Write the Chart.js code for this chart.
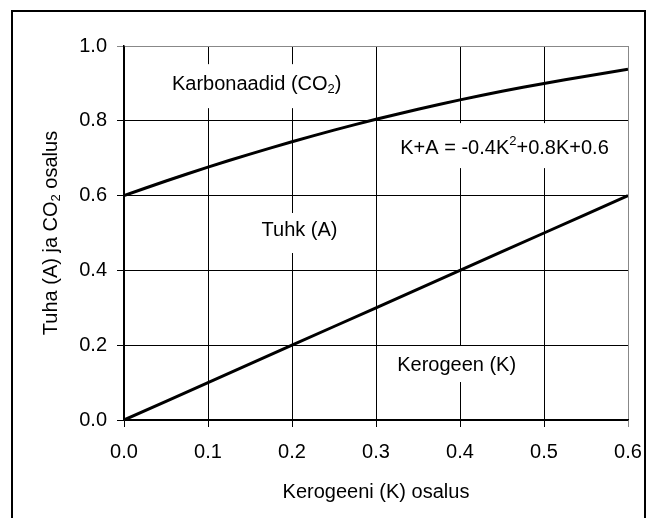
<!DOCTYPE html>
<html>
<head>
<meta charset="utf-8">
<script src="https://cdn.jsdelivr.net/npm/chart.js@4/dist/chart.umd.min.js"></script>
<style>
  html, body { margin: 0; padding: 0; background: #fff; }
  #wrap { width: 648px; height: 518px; }
</style>
</head>
<body>
<div id="wrap"><canvas id="chart" width="648" height="518"></canvas></div>
<script>
// kerogen fraction (x) and the two curves
const kerogen = [0, 0.05, 0.1, 0.15, 0.2, 0.25, 0.3, 0.35, 0.4, 0.45, 0.5, 0.55, 0.6];
const kerogenLine = [0, 0.05, 0.1, 0.15, 0.2, 0.25, 0.3, 0.35, 0.4, 0.45, 0.5, 0.55, 0.6];
const kerogenAsh = [0.600, 0.639, 0.676, 0.711, 0.744, 0.775, 0.804, 0.831, 0.856, 0.879, 0.900, 0.919, 0.938];
const xTicks = [0, 0.1, 0.2, 0.3, 0.4, 0.5, 0.6];
const yTicks = [0, 0.2, 0.4, 0.6, 0.8, 1.0];

const FONT = '"Liberation Sans", Arial, sans-serif';

// text pieces: [text, 'n' normal | 'sub' | 'sup']; up/down = white box extent around text centre
const notes = [
  { x: 0.158, y: 0.898, up: 20, down: 24, parts: [['Karbonaadid (CO', 'n'], ['2', 'sub'], [')', 'n']] },
  { x: 0.453, y: 0.727, up: 25, down: 20, parts: [['K+A = -0.4K', 'n'], ['2', 'sup'], ['+0.8K+0.6', 'n']] },
  { x: 0.209, y: 0.508, up: 17, down: 23, parts: [['Tuhk (A)', 'n']] },
  { x: 0.396, y: 0.147, up: 19, down: 17, parts: [['Kerogeen (K)', 'n']] }
];

function measureParts(ctx, parts) {
  let w = 0;
  parts.forEach(([t, k]) => {
    ctx.font = (k === 'n' ? '20px ' : '13px ') + FONT;
    w += ctx.measureText(t).width;
  });
  return w;
}

function drawParts(ctx, parts, x, y) {
  ctx.textBaseline = 'middle';
  ctx.textAlign = 'left';
  parts.forEach(([t, k]) => {
    ctx.font = (k === 'n' ? '20px ' : '13px ') + FONT;
    let dy = 0;
    if (k === 'sub') dy = 5;
    if (k === 'sup') dy = -7;
    ctx.fillText(t, x, y + dy);
    x += ctx.measureText(t).width;
  });
}

const notesPlugin = {
  id: 'notes',
  beforeDatasetsDraw(chart) {
    const ctx = chart.ctx;
    const a = chart.chartArea;
    const xs = chart.scales.x, ys = chart.scales.y;
    ctx.save();
    notes.forEach(n => {
      const px = xs.getPixelForValue(n.x);
      const py = ys.getPixelForValue(n.y);
      const w = measureParts(ctx, n.parts);
      const left = px - w / 2 - 8;
      const right = Math.min(px + w / 2 + 8, a.right - 1);
      ctx.fillStyle = '#fff';
      ctx.fillRect(left, py - n.up, right - left, n.up + n.down);
      ctx.fillStyle = '#000';
      drawParts(ctx, n.parts, px - w / 2, py);
    });
    ctx.restore();
  },
  afterDraw(chart) {
    const ctx = chart.ctx;
    const a = chart.chartArea;
    ctx.save();
    ctx.fillStyle = '#000';
    // x axis title
    const xp = [['Kerogeeni (K) osalus', 'n']];
    drawParts(ctx, xp, (a.left + a.right) / 2 - measureParts(ctx, xp) / 2, 492);
    // y axis title with subscript
    ctx.translate(51, (a.top + a.bottom) / 2);
    ctx.rotate(-Math.PI / 2);
    const parts = [['Tuha (A) ja CO', 'n'], ['2', 'sub'], [' osalus', 'n']];
    const w = measureParts(ctx, parts);
    drawParts(ctx, parts, -w / 2, 0);
    ctx.restore();
    // outer frame
    ctx.save();
    ctx.strokeStyle = '#000';
    ctx.lineWidth = 2;
    ctx.beginPath();
    ctx.moveTo(12, 530);
    ctx.lineTo(12, 11);
    ctx.lineTo(645, 11);
    ctx.lineTo(645, 530);
    ctx.stroke();
    ctx.restore();
  }
};

new Chart(document.getElementById('chart'), {
  type: 'line',
  data: {
    datasets: [
      {
        label: 'K+A',
        data: kerogen.map((k, i) => ({ x: k, y: kerogenAsh[i] })),
        borderColor: '#000',
        borderWidth: 3,
        pointRadius: 0,
        tension: 0.3,
        fill: false
      },
      {
        label: 'K',
        data: kerogen.map((k, i) => ({ x: k, y: kerogenLine[i] })),
        borderColor: '#000',
        borderWidth: 3,
        pointRadius: 0,
        fill: false
      }
    ]
  },
  options: {
    responsive: false,
    animation: false,
    layout: { padding: { left: 0, top: 46, right: 20, bottom: 0 } },
    plugins: { legend: { display: false }, tooltip: { enabled: false } },
    scales: {
      x: {
        type: 'linear',
        min: 0,
        max: 0.6,
        afterBuildTicks: s => { s.ticks = xTicks.map(v => ({ value: v })); },
        afterFit: s => { s.height = 98; s.paddingLeft = 0; s.paddingRight = 0; },
        grid: {
          color: c => (c.tick && c.tick.value === 0.6 ? '#888' : '#000'),
          lineWidth: 1,
          tickLength: 7
        },
        border: { color: '#000', width: 1.5 },
        ticks: {
          color: '#000',
          font: { family: FONT, size: 20 },
          padding: 13,
          maxRotation: 0,
          callback: v => v.toFixed(1)
        }
      },
      y: {
        min: 0,
        max: 1,
        afterBuildTicks: s => { s.ticks = yTicks.map(v => ({ value: v })); },
        afterFit: s => { s.width = 124; s.paddingTop = 0; s.paddingBottom = 0; },
        grid: {
          color: c => (c.tick && c.tick.value === 1 ? '#888' : '#000'),
          lineWidth: 1,
          tickLength: 7
        },
        border: { color: '#000', width: 1.5 },
        ticks: {
          color: '#000',
          font: { family: FONT, size: 20 },
          padding: 10,
          callback: v => v.toFixed(1)
        }
      }
    }
  },
  plugins: [notesPlugin]
});
</script>
</body>
</html>
